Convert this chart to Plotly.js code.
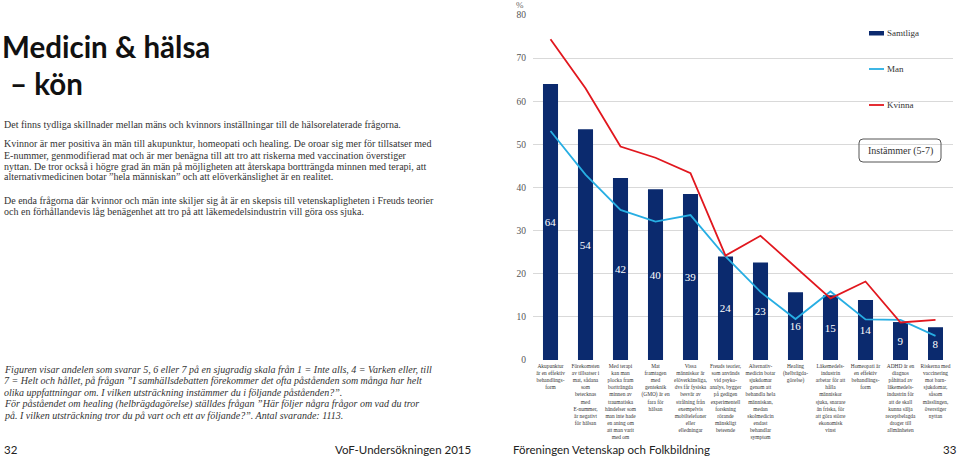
<!DOCTYPE html>
<html>
<head>
<meta charset="utf-8">
<script src="https://cdn.plot.ly/plotly-3.0.1.min.js"></script>
<style>
html,body{margin:0;padding:0;background:#fff;}
#chart{width:960px;height:459px;}
</style>
</head>
<body>
<div id="chart"></div>
<script>
// ---- data ----
const categories = [
  "Akupunktur<br>är en effektiv<br>behandlings-<br>form",
  "Förekomsten<br>av tillsatser i<br>mat, sådana<br>som<br>betecknas<br>med<br>E-nummer,<br>är negativt<br>för hälsan",
  "Med terapi<br>kan man<br>plocka fram<br>bortträngda<br>minnen av<br>traumatiska<br>händelser som<br>man inte hade<br>en aning om<br>att man varit<br>med om",
  "Mat<br>framtagen<br>med<br>genteknik<br>(GMO) är en<br>fara för<br>hälsan",
  "Vissa<br>människor är<br>elöverkänsliga,<br>dvs får fysiska<br>besvär av<br>strålning från<br>exempelvis<br>mobiltelefoner<br>eller<br>elledningar",
  "Freuds teorier,<br>som används<br>vid psyko-<br>analys, bygger<br>på gedigen<br>experimentell<br>forskning<br>rörande<br>mänskligt<br>beteende",
  "Alternativ-<br>medicin botar<br>sjukdomar<br>genom att<br>behandla hela<br>människan,<br>medan<br>skolmedicin<br>endast<br>behandlar<br>symptom",
  "Healing<br>(helbrägda-<br>görelse)",
  "Läkemedels-<br>industrin<br>arbetar för att<br>hålla<br>människor<br>sjuka, snarare<br>än friska, för<br>att göra större<br>ekonomisk<br>vinst",
  "Homeopati är<br>en effektiv<br>behandlings-<br>form",
  "ADHD är en<br>diagnos<br>påhittad av<br>läkemedels-<br>industrin för<br>att de skall<br>kunna sälja<br>receptbelagda<br>droger till<br>allmänheten",
  "Riskerna med<br>vaccinering<br>mot barn-<br>sjukdomar,<br>såsom<br>mässlingen,<br>överstiger<br>nyttan"
];
const samtliga = [64, 53.5, 42.2, 39.6, 38.5, 24, 22.6, 15.7, 15, 13.9, 8.8, 7.6];
const samtligaLabels = ["64","54","42","40","39","24","23","16","15","14","9","8"];
const man = [53.1, 43, 34.8, 32.1, 33.6, 24.0, 15.8, 9.5, 15.9, 9.4, 9.3, 5.6];
const kvinna = [74.4, 63.0, 49.5, 46.9, 43.3, 24.2, 28.8, 21.5, 14.3, 18.2, 8.7, 9.3];
const yTicks = [0, 10, 20, 30, 40, 50, 60, 70, 80];
const seriesNames = ["Samtliga", "Man", "Kvinna"];

const titleLines = ["Medicin & hälsa", "– kön"];
const introText = "Det finns tydliga skillnader mellan mäns och kvinnors inställningar till de hälsorelaterade frågorna.";
const para2 = [
  "Kvinnor är mer positiva än män till akupunktur, homeopati och healing. De oroar sig mer för tillsatser med",
  "E-nummer, genmodifierad mat och är mer benägna till att tro att riskerna med vaccination överstiger",
  "nyttan. De tror också i högre grad än män på möjligheten att återskapa bortträngda minnen med terapi, att",
  "alternativmedicinen botar ”hela människan” och att elöverkänslighet är en realitet."
];
const para3 = [
  "De enda frågorna där kvinnor och män inte skiljer sig åt är en skepsis till vetenskapligheten i Freuds teorier",
  "och en förhållandevis låg benägenhet att tro på att läkemedelsindustrin vill göra oss sjuka."
];
const noteLines = [
  "Figuren visar andelen som svarar 5, 6 eller 7 på en sjugradig skala från 1 = Inte alls, 4 = Varken eller, till",
  "7 = Helt och hållet, på frågan ”I samhällsdebatten förekommer det ofta påståenden som många har helt",
  "olika uppfattningar om. I vilken utsträckning instämmer du i följande påståenden?”.",
  "För påståendet om healing (helbrägdagörelse) ställdes frågan ”Här följer några frågor om vad du tror",
  "på. I vilken utsträckning tror du på vart och ett av följande?”. Antal svarande: 1113."
];
const footer = ["32", "VoF-Undersökningen 2015", "Föreningen Vetenskap och Folkbildning", "33"];
const boxLabel = "Instämmer (5-7)";

// ---- styles ----
const NAVY = "#0b2a6e", CYAN = "#27aee3", RED = "#e1171e";
const SERIF = "Liberation Serif, DejaVu Serif, serif";
const SANS = "Lato, Open Sans, sans-serif";
const FOOT = "Lato, Liberation Sans, sans-serif";

// plot area in pixels
const L = 533, R = 953, T = 15, B = 360;
const px = x => (x - L) / (R - L);
const py = y => (B - y) / (B - T);

const idx = categories.map((c, i) => i);

const traces = [
  {
    type: "bar", name: seriesNames[0], x: idx, y: samtliga,
    marker: {color: NAVY}, width: 0.43,
    text: samtligaLabels, textposition: "inside", insidetextanchor: "middle",
    textangle: 0, constraintext: "none",
    textfont: {family: SERIF, size: 11, color: "#ffffff"},
    hoverinfo: "skip"
  },
  {
    type: "scatter", mode: "lines", name: seriesNames[1], x: idx, y: man,
    line: {color: CYAN, width: 1.8}, hoverinfo: "skip"
  },
  {
    type: "scatter", mode: "lines", name: seriesNames[2], x: idx, y: kvinna,
    line: {color: RED, width: 1.8}, hoverinfo: "skip"
  }
];

const ann = [];
function txt(text, x, y, size, opts) {
  ann.push(Object.assign({
    text: text, xref: "paper", yref: "paper", x: px(x), y: py(y),
    xanchor: "left", yanchor: "middle", showarrow: false,
    font: {family: SERIF, size: size, color: "#333"}
  }, opts || {}));
}
// title
txt(titleLines[0], 0, 47, 29, {font: {family: SANS, size: 29.5, color: "#111", weight: 700}});
txt(titleLines[1], 8, 84, 29, {font: {family: SANS, size: 29.5, color: "#111", weight: 700}});
txt(introText, 2, 124, 10);
para2.forEach((l, i) => txt(l, 2, 144 + i * 11, 10));
para3.forEach((l, i) => txt(l, 2, 200.7 + i * 11, 10));
noteLines.forEach((l, i) => txt("<i>" + l + "</i>", 2, 369 + i * 11.5, 10));
const footFont = {family: FOOT, size: 11.5, color: "#222"};
txt(footer[0], 2, 449, 11.5, {font: footFont});
txt(footer[1], 333, 449, 11.5, {font: footFont});
txt(footer[2], 511, 449, 11.5, {font: footFont});
txt(footer[3], 959, 449, 11.5, {xanchor: "right", font: footFont});
// % unit
txt("%", 520, 5, 9, {xanchor: "center", font: {family: SERIF, size: 9, color: "#666"}});
// legend texts
txt(seriesNames[0], 885, 33, 9);
txt(seriesNames[1], 885, 69, 9);
txt(seriesNames[2], 885, 105, 9);
// box label
txt(boxLabel, 900, 150.5, 10, {xanchor: "center"});

// rounded box
const X0 = px(859), X1 = px(941), YT = py(139), YB = py(162);
const rx = 4 / (R - L), ry = 4 / (B - T);
const boxPath = `M ${X0 + rx},${YT} L ${X1 - rx},${YT} Q ${X1},${YT} ${X1},${YT - ry} ` +
  `L ${X1},${YB + ry} Q ${X1},${YB} ${X1 - rx},${YB} L ${X0 + rx},${YB} Q ${X0},${YB} ${X0},${YB + ry} ` +
  `L ${X0},${YT - ry} Q ${X0},${YT} ${X0 + rx},${YT} Z`;

const shapes = [
  {type: "rect", xref: "paper", yref: "paper", x0: px(869), x1: px(884), y0: py(31), y1: py(35.5),
   fillcolor: NAVY, line: {width: 0}},
  {type: "line", xref: "paper", yref: "paper", x0: px(869), x1: px(884), y0: py(69), y1: py(69),
   line: {color: CYAN, width: 1.8}},
  {type: "line", xref: "paper", yref: "paper", x0: px(869), x1: px(884), y0: py(105), y1: py(105),
   line: {color: RED, width: 1.8}},
  {type: "path", xref: "paper", yref: "paper", path: boxPath, line: {color: "#555", width: 1}, fillcolor: "rgba(255,255,255,0)"}
];

const layout = {
  width: 960, height: 459,
  margin: {l: L, r: 960 - R, t: T, b: 459 - B, pad: 0},
  paper_bgcolor: "#fff", plot_bgcolor: "#fff",
  showlegend: false,
  xaxis: {
    range: [-0.5, 11.5], tickvals: idx, ticktext: categories, tickangle: 0,
    tickfont: {family: SERIF, size: 5.4, color: "#333"},
    showgrid: false, zeroline: false, showline: false, ticks: "", fixedrange: true,
    ticklabelstandoff: 2
  },
  yaxis: {
    range: [0, 80], tickvals: yTicks, ticks: "",
    tickfont: {family: SERIF, size: 9.5, color: "#555"},
    gridcolor: "#d9d9d9", gridwidth: 1, zeroline: false, showline: false,
    ticklabelstandoff: 6, fixedrange: true
  },
  annotations: ann,
  shapes: shapes
};

Plotly.newPlot("chart", traces, layout, {displayModeBar: false, staticPlot: true});
</script>
</body>
</html>
